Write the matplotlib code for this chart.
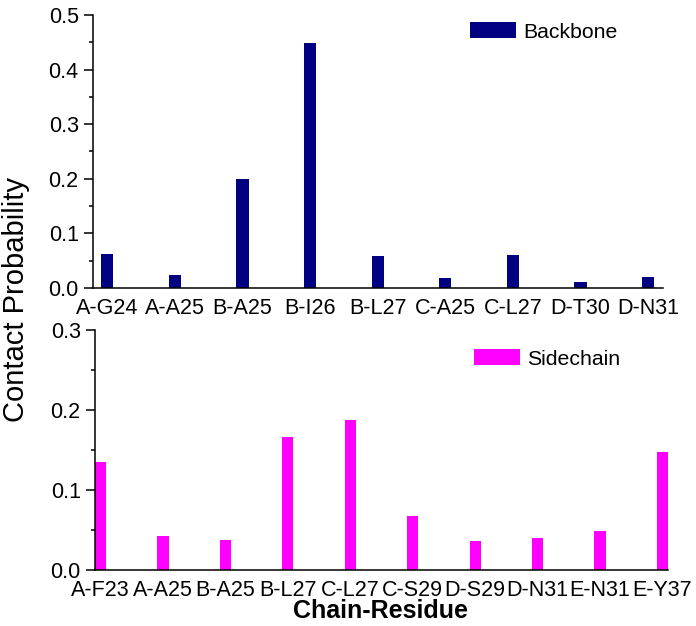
import numpy as np
import matplotlib as mpl
mpl.use('Agg')
mpl.rcParams['font.family'] = ['Liberation Sans', 'DejaVu Sans']
mpl.rcParams['axes.linewidth'] = 1.1
import matplotlib.pyplot as plt
from matplotlib.ticker import MultipleLocator

# data
bb_labels = ['A-G24', 'A-A25', 'B-A25', 'B-I26', 'B-L27', 'C-A25', 'C-L27', 'D-T30', 'D-N31']
bb_values = [0.063, 0.024, 0.200, 0.449, 0.058, 0.018, 0.061, 0.011, 0.020]
sc_labels = ['A-F23', 'A-A25', 'B-A25', 'B-L27', 'C-L27', 'C-S29', 'D-S29', 'D-N31', 'E-N31', 'E-Y37']
sc_values = [0.135, 0.042, 0.037, 0.166, 0.188, 0.068, 0.036, 0.040, 0.049, 0.147]

W, H = 696., 626.
fslab = 15.5
fsleg = 15.3
fig = plt.figure(figsize=(W/100, H/100), dpi=100, facecolor='w')

def setup(ax, labels, ymax):
    ax.spines['top'].set_visible(False)
    ax.spines['right'].set_visible(False)
    ax.set_xticks(np.arange(len(labels)))
    ax.set_xticklabels(labels, fontsize=fslab)
    ax.tick_params(axis='x', length=0, pad=7)
    ax.tick_params(axis='y', which='major', direction='out', length=6.3, width=1.1, pad=4, labelsize=fslab)
    ax.tick_params(axis='y', which='minor', direction='out', length=3.2, width=1.1)
    ax.yaxis.set_major_locator(MultipleLocator(0.1))
    ax.yaxis.set_minor_locator(MultipleLocator(0.05))
    ax.yaxis.set_major_formatter(mpl.ticker.FormatStrFormatter('%.1f'))
    ax.set_ylim(0, ymax)

# top panel : backbone
ax1 = fig.add_axes([93/W, 1-288/H, (663-93)/W, (288-15)/H])
x1 = np.arange(len(bb_values))
ax1.bar(x1, bb_values, width=0.18, color='#000080', edgecolor='none', label='Backbone')
ax1.set_xlim(-0.21, 8.22)
setup(ax1, bb_labels, 0.5)
ax1.legend(loc='upper left', bbox_to_anchor=(470/W, 1-22/H), bbox_transform=fig.transFigure,
           frameon=False, fontsize=fsleg, borderpad=0, borderaxespad=0,
           handlelength=2.15, handleheight=0.8, handletextpad=0.35)

# bottom panel : sidechain
ax2 = fig.add_axes([95/W, 1-570/H, (668-95)/W, (570-330)/H])
x2 = np.arange(len(sc_values))
ax2.bar(x2, sc_values, width=0.18, color='#FF00FF', edgecolor='none', label='Sidechain')
ax2.set_xlim(-0.09, 9.09)
setup(ax2, sc_labels, 0.3)
ax2.legend(loc='upper left', bbox_to_anchor=(474/W, 1-349/H), bbox_transform=fig.transFigure,
           frameon=False, fontsize=fsleg, borderpad=0, borderaxespad=0,
           handlelength=2.15, handleheight=0.8, handletextpad=0.35)

fig.text(16/W, 1-300/H, 'Contact Probability', rotation=90, ha='center', va='center', fontsize=21)
fig.text(381/W, 1-611/H, 'Chain-Residue', ha='center', va='center', fontsize=18, fontweight='bold')

plt.savefig('out.png', dpi=100)
